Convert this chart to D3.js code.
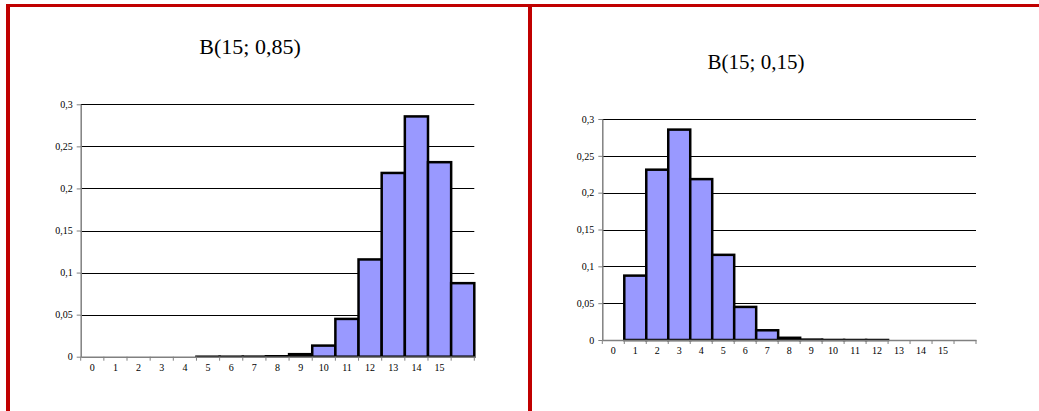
<!DOCTYPE html>
<html>
<head>
<meta charset="utf-8">
<script src="https://cdn.jsdelivr.net/npm/d3@7"></script>
<style>
  html, body { margin: 0; padding: 0; background: #fff; }
  svg { display: block; }
  .tick text { font-family: 'Liberation Serif', 'Times New Roman', serif; }
</style>
</head>
<body>
<svg id="chart" width="1039" height="411"></svg>
<script>
// ---- data ----
const categories = [0,1,2,3,4,5,6,7,8,9,10,11,12,13,14,15,16];
const xLabels = ["0","1","2","3","4","5","6","7","8","9","10","11","12","13","14","15",""];
const yTicks = [0, 0.05, 0.1, 0.15, 0.2, 0.25, 0.3];
const yTickLabels = ["0","0,05","0,1","0,15","0,2","0,25","0,3"];

const leftTitle = "B(15; 0,85)";
const leftValues = [0, 0, 0, 0, 0, 0.00000061, 0.0000077, 0.000072, 0.00053, 0.0030,
                    0.0132, 0.0449, 0.1156, 0.2184, 0.2856, 0.2312, 0.0874];

const rightTitle = "B(15; 0,15)";
const rightValues = [0, 0.0874, 0.2312, 0.2856, 0.2184, 0.1156, 0.0449, 0.0132, 0.0030,
                     0.00053, 0.000072, 0.0000077, 0.00000061, 0, 0, 0, 0];

// ---- drawing ----
const svg = d3.select("#chart");
const red = "#C00000";
const serif = "'Liberation Serif', 'Times New Roman', serif";

// red frame
svg.append("rect").attr("x", 6).attr("y", 4).attr("width", 1033).attr("height", 3).attr("fill", red);
svg.append("rect").attr("x", 6).attr("y", 4).attr("width", 4).attr("height", 407).attr("fill", red);
svg.append("rect").attr("x", 528).attr("y", 4).attr("width", 4).attr("height", 407).attr("fill", red);

function drawChart(cfg) {
  const g = svg.append("g");
  const x = d3.scaleBand().domain(categories).range([cfg.x0, cfg.x1]).padding(0);
  const y = d3.scaleLinear().domain([0, 0.3]).range([cfg.y0, cfg.y1]);

  // title
  g.append("text")
    .attr("x", cfg.titleX).attr("y", cfg.titleY)
    .attr("text-anchor", "middle")
    .attr("font-family", serif)
    .attr("font-size", cfg.titleSize)
    .attr("fill", "#000")
    .text(cfg.title);

  // gridlines
  g.append("g").selectAll("line")
    .data(yTicks.filter(d => d > 0))
    .join("line")
    .attr("x1", cfg.x0).attr("x2", cfg.x1)
    .attr("y1", d => Math.round(y(d)) + 0.5).attr("y2", d => Math.round(y(d)) + 0.5)
    .attr("stroke", "#000").attr("stroke-width", 1);

  // y axis
  const yAxis = d3.axisLeft(y)
    .tickValues(yTicks)
    .tickFormat((d, i) => yTickLabels[i])
    .tickSize(4).tickSizeOuter(0).tickPadding(4);
  const ya = g.append("g").attr("transform", `translate(${cfg.x0},0)`).call(yAxis)
    .attr("font-family", serif).attr("font-size", cfg.tickSize);
  ya.select(".domain").attr("stroke", "#808080").attr("stroke-width", 1.5);
  ya.selectAll(".tick line").attr("stroke", "#808080");
  ya.selectAll("text").attr("fill", "#000");

  // bars
  g.append("g").selectAll("rect")
    .data(categories.filter((c, i) => cfg.values[i] > 0))
    .join("rect")
    .attr("x", d => x(d))
    .attr("width", x.bandwidth())
    .attr("y", d => y(cfg.values[d]))
    .attr("height", d => y(0) - y(cfg.values[d]))
    .attr("fill", "#9999FF")
    .attr("stroke", "#000")
    .attr("stroke-width", 2.5);

  // x axis (labels centred in categories, ticks at boundaries)
  const xAxis = d3.axisBottom(x)
    .tickFormat((d, i) => xLabels[i])
    .tickSize(0).tickPadding(cfg.labelPad);
  const xa = g.append("g").attr("transform", `translate(0,${cfg.y0})`).call(xAxis)
    .attr("font-family", serif).attr("font-size", cfg.tickSize);
  xa.select(".domain").attr("stroke", "#808080").attr("stroke-width", 1.5);
  xa.selectAll("text").attr("fill", "#000");

  const bounds = categories.map(c => x(c)).concat([cfg.x1]);
  g.append("g").selectAll("line")
    .data(bounds)
    .join("line")
    .attr("x1", d => d).attr("x2", d => d)
    .attr("y1", cfg.y0).attr("y2", cfg.y0 + 4)
    .attr("stroke", "#808080").attr("stroke-width", 1);
}

drawChart({
  title: leftTitle, values: leftValues,
  x0: 80.7, x1: 474.3, y0: 356.7, y1: 104.3,
  titleX: 250, titleY: 54, titleSize: 22, tickSize: 10, labelPad: 7
});

drawChart({
  title: rightTitle, values: rightValues,
  x0: 602.3, x1: 976, y0: 340, y1: 119,
  titleX: 756, titleY: 69, titleSize: 21, tickSize: 10, labelPad: 7
});
</script>
</body>
</html>
